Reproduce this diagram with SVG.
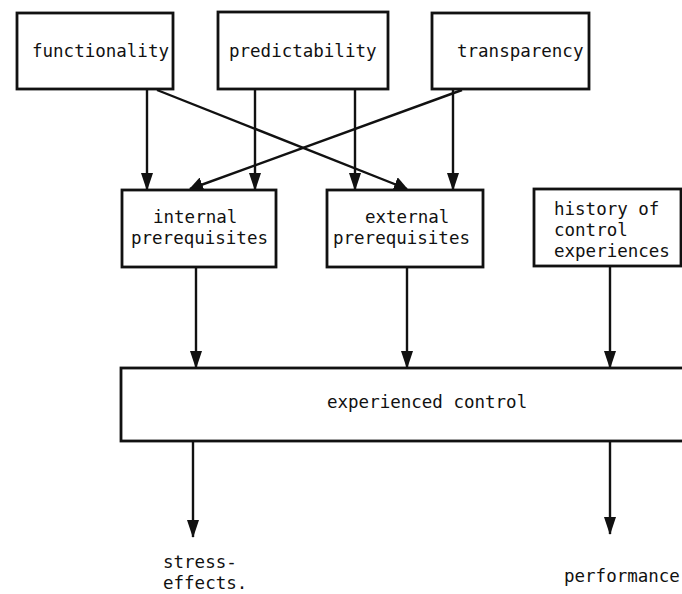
<svg xmlns="http://www.w3.org/2000/svg" width="682" height="594" viewBox="0 0 682 594">
<style>
.box{fill:#fff;stroke:#111;stroke-width:2.8}
.t{font-family:"DejaVu Sans Mono","Liberation Mono",monospace;font-size:17.5px;fill:#111}
.c{stroke:#111;stroke-width:2.4;fill:none}
</style>
<defs>
<marker id="ah" markerUnits="userSpaceOnUse" markerWidth="18" markerHeight="13" viewBox="0 0 18 13" refX="17" refY="6.5" orient="auto">
<path d="M0,0.5 L18,6.5 L0,12.5 Z" fill="#111"/>
</marker>
<marker id="ab" markerUnits="userSpaceOnUse" markerWidth="14" markerHeight="15" viewBox="0 0 14 15" refX="13" refY="7.5" orient="auto">
<path d="M0,0 L14,7.5 L0,15 Z" fill="#111"/>
</marker>
</defs>
<rect width="682" height="594" fill="#fff"/>
<g id="connectors">
<line class="c" x1="147" y1="90" x2="147" y2="190" marker-end="url(#ah)"/>
<line class="c" x1="255" y1="90" x2="255" y2="190" marker-end="url(#ah)"/>
<line class="c" x1="355" y1="90" x2="355" y2="190" marker-end="url(#ah)"/>
<line class="c" x1="453" y1="90" x2="453" y2="190" marker-end="url(#ah)"/>
<line class="c" x1="157" y1="90" x2="407" y2="189" stroke-width="2.8" marker-end="url(#ab)"/>
<line class="c" x1="462" y1="90" x2="190" y2="189" stroke-width="2.8" marker-end="url(#ab)"/>
<line class="c" x1="196" y1="267" x2="196" y2="368" marker-end="url(#ah)"/>
<line class="c" x1="407" y1="267" x2="407" y2="368" marker-end="url(#ah)"/>
<line class="c" x1="610" y1="266" x2="610" y2="368" marker-end="url(#ah)"/>
<line class="c" x1="193" y1="441" x2="193" y2="537" marker-end="url(#ah)"/>
<line class="c" x1="610" y1="441" x2="610" y2="534" marker-end="url(#ah)"/>
</g>
<g id="functionality"><rect class="box" x="17" y="13" width="156" height="76"/><text class="t" x="32" y="57">functionality</text></g>
<g id="predictability"><rect class="box" x="218" y="12" width="170" height="77"/><text class="t" x="229" y="57">predictability</text></g>
<g id="transparency"><rect class="box" x="432" y="13" width="157" height="76"/><text class="t" x="457" y="57">transparency</text></g>
<g id="internal"><rect class="box" x="122" y="190" width="154" height="77"/><text class="t" x="153" y="223">internal</text><text class="t" x="131" y="244">prerequisites</text></g>
<g id="external"><rect class="box" x="327" y="190" width="156" height="77"/><text class="t" x="365" y="223">external</text><text class="t" x="333" y="244">prerequisites</text></g>
<g id="history"><rect class="box" x="534" y="189" width="147" height="77"/><text class="t" x="554" y="215">history of</text><text class="t" x="554" y="236">control</text><text class="t" x="554" y="257">experiences</text></g>
<g id="experienced"><rect class="box" x="121" y="368" width="600" height="73"/><text class="t" x="327" y="408">experienced control</text></g>
<g id="stress"><text class="t" x="163" y="568">stress-</text><text class="t" x="163" y="589">effects.</text></g>
<g id="performance"><text class="t" x="564" y="582">performance</text></g>
</svg>
